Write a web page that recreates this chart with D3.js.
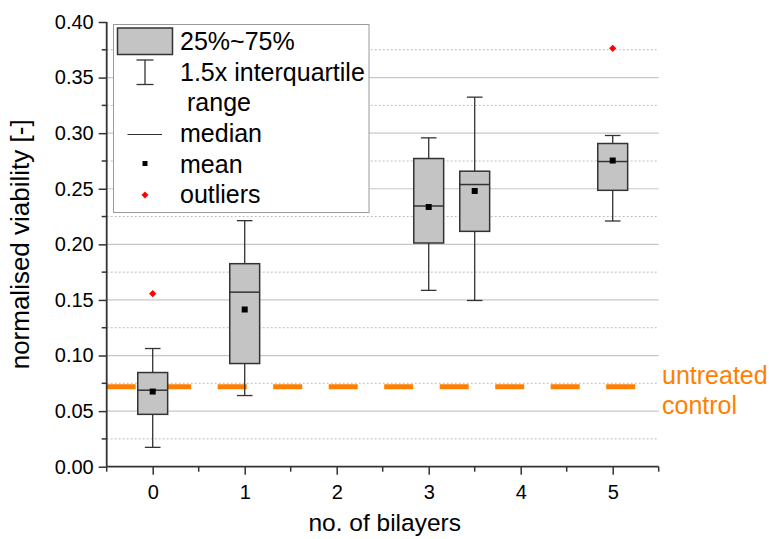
<!DOCTYPE html>
<html>
<head>
<meta charset="utf-8">
<script src="https://cdn.jsdelivr.net/npm/d3@7"></script>
<style>
  html, body { margin: 0; padding: 0; background: #fff; }
  svg { display: block; font-family: Arial, "Liberation Sans", sans-serif; }
</style>
</head>
<body>
<svg id="chart" width="769" height="539"></svg>
<script>
// ---- data ----
const positions   = [0, 1, 3, 3.5, 5];
const whiskerLow  = [0.0174, 0.0640, 0.1586, 0.1495, 0.2210];
const q1          = [0.0471, 0.0928, 0.2012, 0.2117, 0.2486];
const medians     = [0.0688, 0.1570, 0.2345, 0.2538, 0.2745];
const q3          = [0.0847, 0.1826, 0.2772, 0.2658, 0.2907];
const whiskerHigh = [0.1063, 0.2213, 0.2958, 0.3324, 0.2979];
const means       = [0.0676, 0.1414, 0.2336, 0.2480, 0.2754];
const outlierX    = [0, 5];
const outlierV    = [0.1556, 0.3763];
const controlValue = 0.072;
const xTicks = [0, 1, 2, 3, 4, 5];
const yTicks = [0.00, 0.05, 0.10, 0.15, 0.20, 0.25, 0.30, 0.35, 0.40];
const yMinorTicks = [0.025, 0.075, 0.125, 0.175, 0.225, 0.275, 0.325, 0.375];
const legendLabels = ["25%~75%", "1.5x interquartile", "range", "median", "mean", "outliers"];

(function () {
// ---- layout ----
const svg = d3.select("#chart");
const pLeft = 106.7, pRight = 658.7, pTop = 22, pBottom = 466.7;
const x = d3.scaleLinear().domain([-0.5, 5.5]).range([pLeft, pRight]);
const y = d3.scaleLinear().domain([0, 0.40]).range([pBottom, pTop]);

const boxes = positions.map((p, i) => ({
  p, lo: whiskerLow[i], q1: q1[i], med: medians[i], q3: q3[i], hi: whiskerHigh[i], mean: means[i]
}));
const outliers = outlierX.map((p, i) => ({ p, v: outlierV[i] }));

// ---- grid ----
const grid = svg.append("g");
grid.selectAll("line.major").data(yTicks.filter(v => v > 0 && v < 0.40)).enter().append("line")
  .attr("x1", pLeft).attr("x2", pRight)
  .attr("y1", d => y(d)).attr("y2", d => y(d))
  .attr("stroke", "#c8c8c8").attr("stroke-width", 1.2);
grid.selectAll("line.minor").data(yMinorTicks).enter().append("line")
  .attr("x1", pLeft).attr("x2", pRight)
  .attr("y1", d => y(d)).attr("y2", d => y(d))
  .attr("stroke", "#bdbdbd").attr("stroke-width", 1)
  .attr("stroke-dasharray", "2,2");

// ---- control line ----
svg.append("line")
  .attr("x1", pLeft).attr("x2", pRight)
  .attr("y1", y(controlValue)).attr("y2", y(controlValue))
  .attr("stroke", "#ff8000").attr("stroke-width", 5)
  .attr("stroke-dasharray", "29,26.5");

svg.append("text").attr("x", 662).attr("y", 383.5)
  .attr("fill", "#ff8000").attr("font-size", 25).text("untreated");
svg.append("text").attr("x", 662).attr("y", 413.5)
  .attr("fill", "#ff8000").attr("font-size", 25).text("control");

// ---- boxes ----
const bw = (x(1) - x(0)) * 0.325;
const capW = (x(1) - x(0)) * 0.17;
const bg = svg.append("g");
const stroke = "#333";
boxes.forEach(b => {
  const cx = x(b.p);
  const g = bg.append("g");
  g.append("line").attr("x1", cx).attr("x2", cx).attr("y1", y(b.hi)).attr("y2", y(b.q3))
    .attr("stroke", stroke).attr("stroke-width", 1.3);
  g.append("line").attr("x1", cx).attr("x2", cx).attr("y1", y(b.q1)).attr("y2", y(b.lo))
    .attr("stroke", stroke).attr("stroke-width", 1.3);
  g.append("line").attr("x1", cx - capW / 2).attr("x2", cx + capW / 2).attr("y1", y(b.hi)).attr("y2", y(b.hi))
    .attr("stroke", stroke).attr("stroke-width", 1.3);
  g.append("line").attr("x1", cx - capW / 2).attr("x2", cx + capW / 2).attr("y1", y(b.lo)).attr("y2", y(b.lo))
    .attr("stroke", stroke).attr("stroke-width", 1.3);
  g.append("rect").attr("x", cx - bw / 2).attr("width", bw)
    .attr("y", y(b.q3)).attr("height", y(b.q1) - y(b.q3))
    .attr("fill", "#c4c4c4").attr("stroke", stroke).attr("stroke-width", 1.5);
  g.append("line").attr("x1", cx - bw / 2).attr("x2", cx + bw / 2).attr("y1", y(b.med)).attr("y2", y(b.med))
    .attr("stroke", stroke).attr("stroke-width", 1.5);
  g.append("rect").attr("x", cx - 3).attr("y", y(b.mean) - 3).attr("width", 6).attr("height", 6)
    .attr("fill", "#000");
});

// outliers
svg.selectAll("path.outlier").data(outliers).enter().append("path")
  .attr("d", d => {
    const cx = x(d.p), cy = y(d.v), r = 3.6;
    return `M${cx},${cy - r}L${cx + r},${cy}L${cx},${cy + r}L${cx - r},${cy}Z`;
  })
  .attr("fill", "#ff0000");

// ---- axes ----
const xAxisG = svg.append("g").attr("transform", `translate(0,${pBottom})`);
xAxisG.call(d3.axisBottom(x).tickValues(xTicks).tickSize(8).tickSizeOuter(0).tickPadding(10).tickFormat(d3.format("d")));
xAxisG.append("g").selectAll("line").data([-0.5, 0.5, 1.5, 2.5, 3.5, 4.5, 5.5]).enter().append("line")
  .attr("x1", d => x(d)).attr("x2", d => x(d)).attr("y1", 0).attr("y2", 5)
  .attr("stroke", stroke).attr("stroke-width", 1.5);

const yAxisG = svg.append("g").attr("transform", `translate(${pLeft},0)`);
yAxisG.call(d3.axisLeft(y).tickValues(yTicks).tickSize(8).tickSizeOuter(0).tickPadding(5).tickFormat(d3.format(".2f")));
yAxisG.append("g").selectAll("line").data(yMinorTicks).enter().append("line")
  .attr("x1", 0).attr("x2", -5).attr("y1", d => y(d)).attr("y2", d => y(d))
  .attr("stroke", stroke).attr("stroke-width", 1.5);

[xAxisG, yAxisG].forEach(g => {
  g.select(".domain").attr("stroke", stroke).attr("stroke-width", 1.8);
  g.selectAll(".tick line").attr("stroke", stroke).attr("stroke-width", 1.5);
  g.selectAll(".tick text").attr("font-size", 20).attr("fill", "#000")
    .attr("font-family", "Arial, 'Liberation Sans', sans-serif");
});
yAxisG.select(".domain").attr("d", `M0,${pBottom}V${pTop}`);
xAxisG.select(".domain").attr("d", `M${pLeft},0H${pRight}`);

// axis titles
svg.append("text").attr("x", (pLeft + pRight) / 2 + 2).attr("y", 531)
  .attr("text-anchor", "middle").attr("font-size", 24.5).text("no. of bilayers");
svg.append("text").attr("transform", `translate(29,${(pTop + pBottom) / 2}) rotate(-90)`)
  .attr("text-anchor", "middle").attr("font-size", 26).text("normalised viability [-]");

// ---- legend ----
const lg = svg.append("g");
lg.append("rect").attr("x", 113.5).attr("y", 24.5).attr("width", 255.5).attr("height", 188)
  .attr("fill", "#fff").attr("stroke", "#9a9a9a").attr("stroke-width", 1);
lg.append("rect").attr("x", 117.5).attr("y", 28).attr("width", 55).attr("height", 26.5)
  .attr("fill", "#c4c4c4").attr("stroke", stroke).attr("stroke-width", 1.5);
lg.append("line").attr("x1", 145).attr("x2", 145).attr("y1", 60).attr("y2", 84.5).attr("stroke", stroke).attr("stroke-width", 1.3);
lg.append("line").attr("x1", 136.5).attr("x2", 153.5).attr("y1", 60).attr("y2", 60).attr("stroke", stroke).attr("stroke-width", 1.3);
lg.append("line").attr("x1", 136.5).attr("x2", 153.5).attr("y1", 84.5).attr("y2", 84.5).attr("stroke", stroke).attr("stroke-width", 1.3);
lg.append("line").attr("x1", 127.5).attr("x2", 162).attr("y1", 134.5).attr("y2", 134.5).attr("stroke", stroke).attr("stroke-width", 1.2);
lg.append("rect").attr("x", 142.5).attr("y", 161).attr("width", 5).attr("height", 5).attr("fill", "#000");
lg.append("path").attr("d", "M145,191.5L148.5,195L145,198.5L141.5,195Z").attr("fill", "#ff0000");

const legendX = [180, 180, 187, 180, 180, 180];
const legendY = [50, 81, 110.5, 142, 172.5, 203];
lg.selectAll("text.leg").data(legendLabels).enter().append("text")
  .attr("x", (d, i) => legendX[i]).attr("y", (d, i) => legendY[i])
  .attr("font-size", 25).attr("fill", "#000").text(d => d);
})();
</script>
</body>
</html>
